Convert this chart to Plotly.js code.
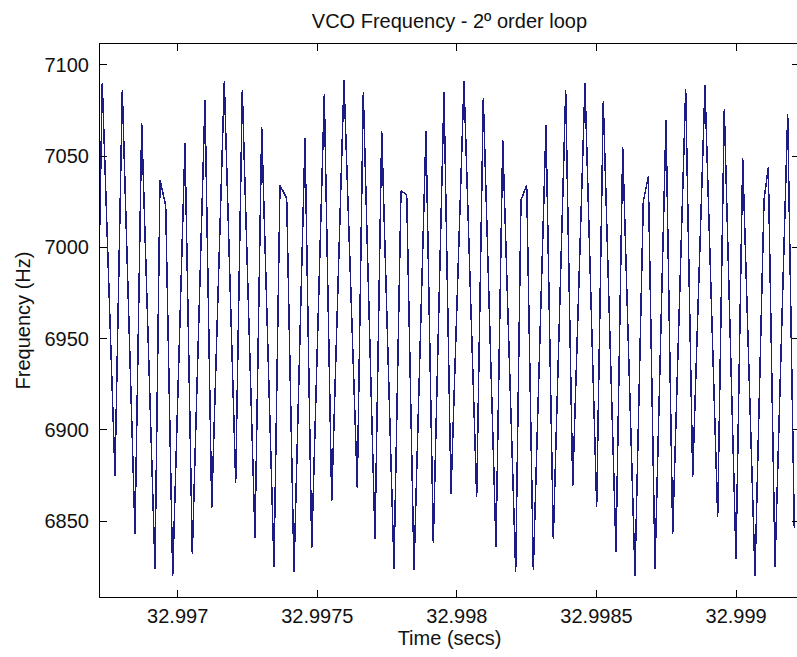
<!DOCTYPE html>
<html>
<head>
<meta charset="utf-8">
<script src="https://cdn.plot.ly/plotly-3.0.1.min.js"></script>
<style>
  html, body { margin: 0; padding: 0; overflow: hidden; background: #fff; }
  #plot { width: 799px; height: 657px; }
  #plot .scatterlayer .js-line { shape-rendering: crispEdges; }
</style>
</head>
<body>
<div id="plot"></div>
<script>
// Time samples (s), in plotting order
const timeSec = [
  32.9967200, 32.9967299, 32.9967754, 32.9968016, 32.9968471, 32.9968711,
  32.9969187, 32.9969366, 32.9969570, 32.9969821, 32.9970261, 32.9970523,
  32.9970978, 32.9971218, 32.9971669, 32.9972077, 32.9972314, 32.9972769,
  32.9973009, 32.9973449, 32.9973664, 32.9973904, 32.9974166, 32.9974560,
  32.9974800, 32.9975251, 32.9975516, 32.9975956, 32.9976433, 32.9976648,
  32.9977067, 32.9977307, 32.9977747, 32.9977998, 32.9978202, 32.9978464,
  32.9978893, 32.9979155, 32.9979538, 32.9979789, 32.9980254, 32.9980709,
  32.9980946, 32.9981401, 32.9981641, 32.9982106, 32.9982296, 32.9982500,
  32.9982737, 32.9983191, 32.9983453, 32.9983897, 32.9984148, 32.9984588,
  32.9985007, 32.9985244, 32.9985699, 32.9985939, 32.9986379, 32.9986676,
  32.9986856, 32.9987096, 32.9987490, 32.9987729, 32.9988195, 32.9988446,
  32.9988886, 32.9989341, 32.9989578, 32.9989997, 32.9990237, 32.9990677,
  32.9991000, 32.9991154, 32.9991394, 32.9991848, 32.9992085
];
// VCO frequency (Hz) at those instants
const freqHz = [
  7005, 7090, 6875, 7086, 6843, 7068,
  6824, 7037, 7023, 6820, 7057, 6832,
  7081, 6857, 7091, 6871, 7086, 6841,
  7066, 6825, 7034, 7027, 6822, 7060,
  6835, 7084, 6861, 7092, 6868, 7085,
  6840, 7064, 6824, 7031, 7029, 6823,
  7064, 6838, 7085, 6865, 7091, 6863,
  7082, 6836, 7059, 6822, 7026, 7034,
  6823, 7067, 6840, 7086, 6869, 7090,
  6858, 7080, 6833, 7055, 6820, 7025,
  7039, 6824, 7070, 6843, 7087, 6874,
  7089, 6852, 7076, 6829, 7049, 6820,
  7026, 7044, 6825, 7073, 6846
];
const xTickVals = [32.997, 32.9975, 32.998, 32.9985, 32.999];
const xTickText = ['32.997', '32.9975', '32.998', '32.9985', '32.999'];
const yTickVals = [6850, 6900, 6950, 7000, 7050, 7100];
const yTickText = ['6850', '6900', '6950', '7000', '7050', '7100'];

const font = { family: 'Liberation Sans, Arial, sans-serif', size: 20, color: '#111' };

const trace = {
  x: timeSec, y: freqHz, type: 'scatter', mode: 'lines',
  line: { color: 'rgb(28,28,135)', width: 1.5 },
  hoverinfo: 'skip'
};

const axisCommon = {
  showline: true, linecolor: '#000', linewidth: 1,
  mirror: 'ticks', ticks: 'inside', ticklen: 7, tickwidth: 1, tickcolor: '#000',
  showgrid: false, zeroline: false, tickfont: font
};

const layout = {
  width: 799, height: 657,
  margin: { l: 100, r: 0, t: 44, b: 60 },
  paper_bgcolor: '#fff', plot_bgcolor: '#fff',
  font: font,
  showlegend: false,
  title: {
    text: 'VCO Frequency - 2º order loop',
    font: font, x: 0.5625, xanchor: 'center',
    y: 0.968, yref: 'container', yanchor: 'middle'
  },
  xaxis: Object.assign({}, axisCommon, {
    range: [32.9967217, 32.9992253],
    tickmode: 'array', tickvals: xTickVals, ticktext: xTickText,
    ticklabelstandoff: 1,
    title: { text: 'Time (secs)', font: font, standoff: 4 }
  }),
  yaxis: Object.assign({}, axisCommon, {
    range: [6808.4, 7111.5],
    tickmode: 'array', tickvals: yTickVals, ticktext: yTickText,
    ticklabelstandoff: 6,
    title: { text: 'Frequency (Hz)', font: font, standoff: 8 }
  })
};

Plotly.newPlot('plot', [trace], layout, { displayModeBar: false, staticPlot: true });
</script>
</body>
</html>
